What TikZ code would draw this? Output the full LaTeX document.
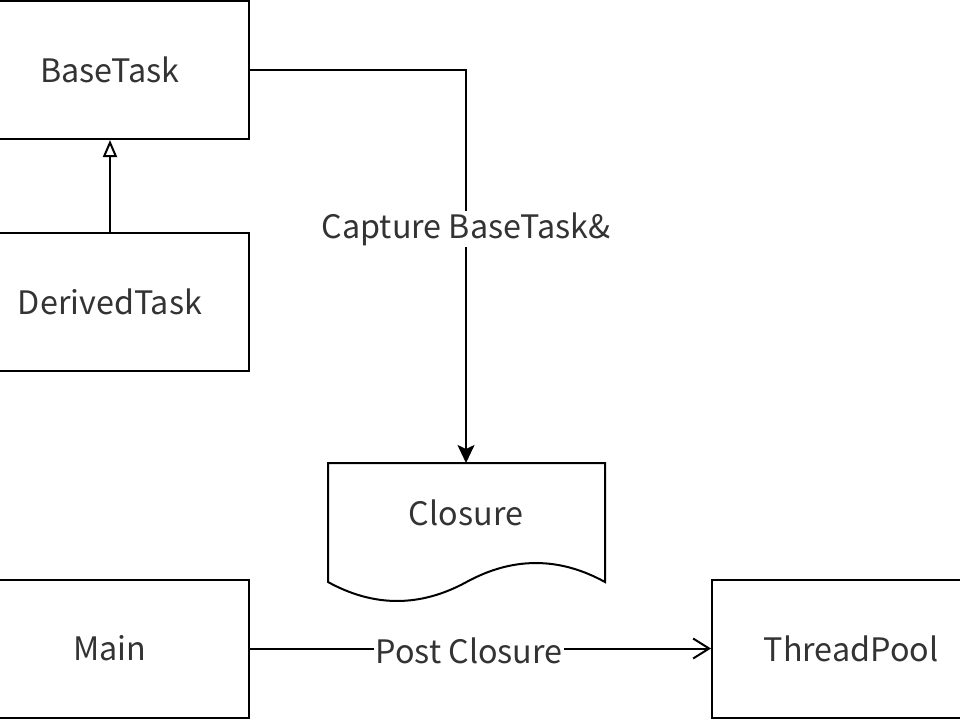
\documentclass[tikz,border=0pt]{standalone}
\usepackage{fontspec}
\setmainfont{Noto Sans CJK SC}
\usetikzlibrary{arrows.meta}

\begin{document}
\begin{tikzpicture}[x=1pt, y=-1pt,
  box/.style={draw, line width=2pt, minimum width=278pt, minimum height=138pt, inner sep=0pt, font=\fontsize{32.3}{40}\selectfont, text=black!80},
  edgelabel/.style={fill=white, inner sep=1pt, font=\fontsize{32.3}{40}\selectfont, text=black!80},
  link/.style={line width=2pt}]
\useasboundingbox (0,0) rectangle (960,720);
\clip (0,0) rectangle (960,720);

\node[box] (basetask) at (110,70) {BaseTask};
\node[box] (derivedtask) at (110,301.5) {DerivedTask};
\node[box] (main) at (110,648.5) {Main};
\node[box] (threadpool) at (851,648.5) {ThreadPool};

% the closure, drawn as a document
\draw[link] (328,463) -- (605,463) -- (605,582)
  .. controls (559,556.7) and (512.8,556.7) .. (466.5,582)
  .. controls (420.2,607.3) and (374,607.3) .. (328,582) -- cycle;
\coordinate (closuretop) at (466,463);
\node[edgelabel, fill=none] (closure) at (466,513) {Closure};

% inheritance
\draw[link, -{Triangle[open, length=17pt, width=14pt]}] (derivedtask.north) -- (basetask.south);

% capture
\draw[link, -{Stealth[length=18pt, width=17pt, inset=4pt]}] (basetask.east) -| (closuretop);
\node[edgelabel] (capture) at (466,229) {Capture BaseTask\&};

% post
\draw[link, -{Straight Barb[length=16pt, width=20pt]}] (main.east) -- (threadpool.west);
\node[edgelabel] (post) at (469,651) {Post Closure};
\end{tikzpicture}
\end{document}
